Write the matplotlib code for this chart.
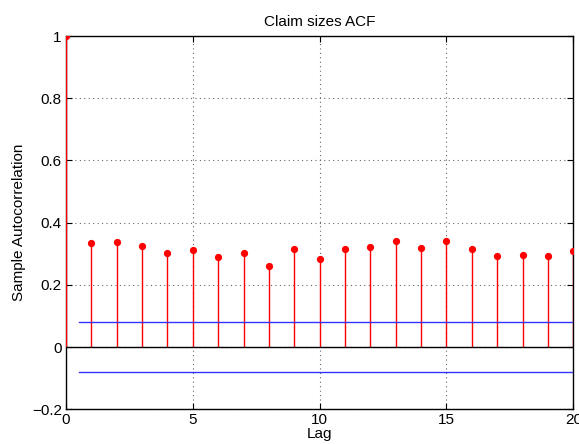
import numpy as np
import matplotlib
matplotlib.use("Agg")
import matplotlib.pyplot as plt

plt.rcParams['font.family'] = ['Liberation Sans', 'DejaVu Sans']

# Sample autocorrelation of claim sizes, lags 0..20
lags = list(range(0, 21))
acf = [1.000, 0.333, 0.338, 0.325, 0.303, 0.313, 0.291, 0.304, 0.260, 0.316,
       0.284, 0.316, 0.321, 0.341, 0.320, 0.342, 0.315, 0.294, 0.295, 0.294,
       0.309]
conf_bound = 0.0815
bound_lags = [0.5, 20]

x_ticks = [0, 5, 10, 15, 20]
y_ticks = [-0.2, 0, 0.2, 0.4, 0.6, 0.8, 1]
y_tick_labels = ['\u22120.2', '0', '0.2', '0.4', '0.6', '0.8', '1']

W, H = 579, 444
fig = plt.figure(figsize=(W / 100, H / 100), dpi=100)
ax = fig.add_axes([66 / W, (H - 409.3) / H, (573.3 - 66) / W, (409.3 - 36) / H])

markerline, stemlines, baseline = ax.stem(lags, acf, linefmt='r-', markerfmt='ro', basefmt='k-')
plt.setp(stemlines, linewidth=1.0)
plt.setp(markerline, markersize=4.2)
plt.setp(baseline, linewidth=1.0)

ax.plot(bound_lags, [conf_bound, conf_bound], color='#3333ff', lw=1.0)
ax.plot(bound_lags, [-conf_bound, -conf_bound], color='#3333ff', lw=1.0)

ax.set_xlim(0, 20)
ax.set_ylim(-0.2, 1)
ax.set_xticks(x_ticks)
ax.set_xticklabels([str(t) for t in x_ticks])
ax.set_yticks(y_ticks)
ax.set_yticklabels(y_tick_labels)
ax.grid(True, linestyle=(0, (1, 3)), color='#666666', linewidth=0.8)
ax.set_axisbelow(True)

ax.tick_params(direction='in', top=True, right=True, length=4, width=0.8,
               labelsize=11, colors='black', pad=3)
for s in ax.spines.values():
    s.set_linewidth(1.0)
    s.set_zorder(1)

ax.set_title('Claim sizes ACF', fontsize=11, pad=7)
ax.set_xlabel('Lag', fontsize=11, labelpad=0)
ax.set_ylabel('Sample Autocorrelation', fontsize=11, labelpad=4)

fig.savefig('out.png', dpi=100)
